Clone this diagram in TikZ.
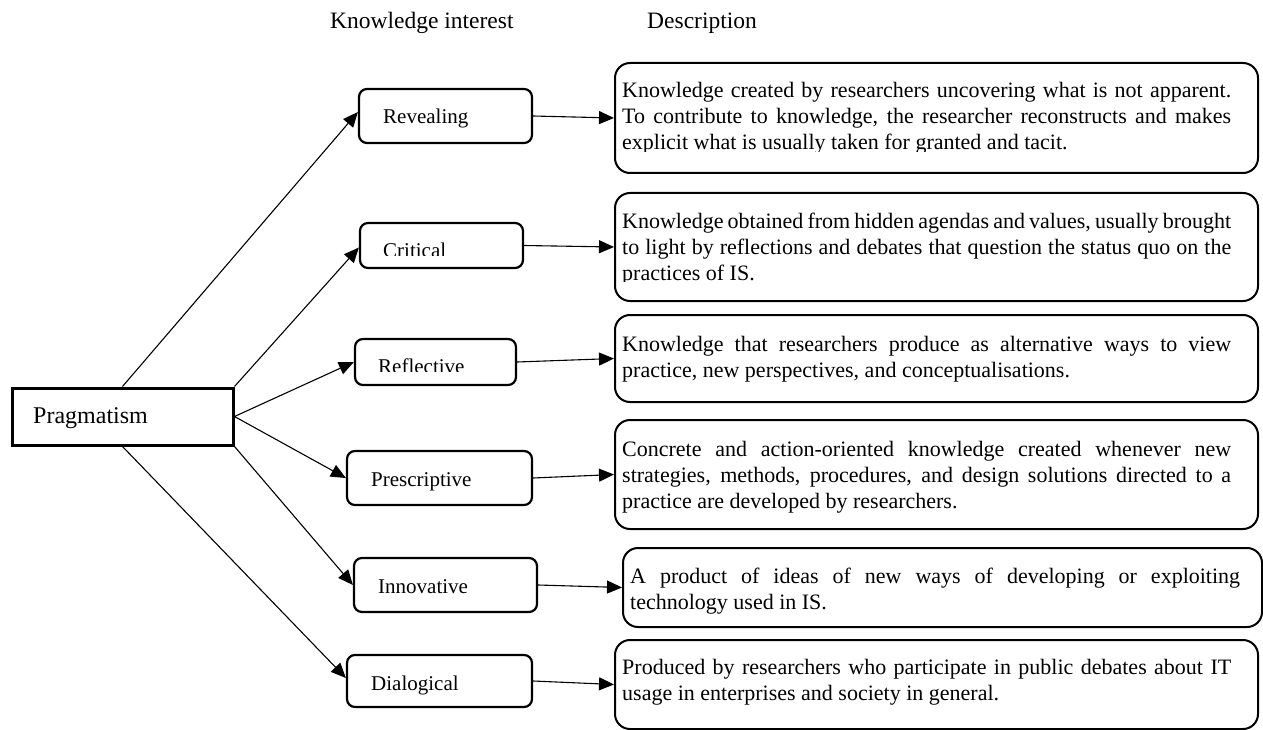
\documentclass[tikz,border=0pt]{standalone}
\usepackage{fontspec}
\setmainfont{Liberation Serif}
\usetikzlibrary{arrows.meta,calc}

% width of a justified description line
\newlength{\descw}
\setlength{\descw}{609pt}
% one justified line of a description, followed by a line break
\newcommand{\jl}[1]{\makebox[\descw][s]{#1}\\}
% description paragraph: first line baseline is the reference point
\newcommand{\desc}[1]{\parbox[t]{630pt}{\fontsize{22pt}{26pt}\selectfont #1}}

\tikzset{
  pragbox/.style={draw, line width=3pt, inner sep=0pt},
  kibox/.style={draw, line width=2.2pt, rounded corners=8pt, inner sep=0pt},
  descbox/.style={draw, line width=2pt, rounded corners=15pt, inner sep=0pt},
  kitext/.style={inner sep=0pt, anchor=base west, font=\fontsize{21pt}{25pt}\selectfont},
  headtext/.style={inner sep=0pt, anchor=base west, font=\fontsize{23.5pt}{28pt}\selectfont},
  desctext/.style={inner sep=0pt, anchor=base west},
  link/.style={line width=1.1pt, -{Triangle[length=15pt,width=13pt]}},
}

\begin{document}
\begin{tikzpicture}[x=1pt, y=-1pt]
  \path[fill=white] (0,0) rectangle (1263,730);
  \useasboundingbox (0,0) rectangle (1263,730);

  % column headings
  \node[headtext] (hki) at (330,29) {Knowledge interest};
  \node[headtext] (hdesc) at (647,29) {Description};

  % root box
  \node[pragbox, minimum width=221pt, minimum height=57pt] (prag) at (122.5,416.5) {};
  \node[inner sep=0pt, anchor=base west, font=\fontsize{24pt}{28pt}\selectfont] (pragtxt) at (33,423) {Pragmatism};

  % knowledge interest boxes
  \node[kibox, minimum width=173pt, minimum height=54pt] (rev)  at (445.5,116) {};
  \node[kibox, minimum width=163pt, minimum height=45pt] (crit) at (441.5,245.5) {};
  \node[kibox, minimum width=161pt, minimum height=46pt] (refl) at (435.5,362) {};
  \node[kibox, minimum width=185pt, minimum height=54pt] (pres) at (439.5,478) {};
  \node[kibox, minimum width=183pt, minimum height=54pt] (inno) at (445.5,585) {};
  \node[kibox, minimum width=185pt, minimum height=52pt] (dial) at (439.5,681) {};

  \node[kitext] (revtxt) at (383,124) {Revealing};
  \begin{scope}
    \clip (360,224) rectangle (523,255.5);
    \node[kitext] (crittxt) at (383,257) {Critical};
  \end{scope}
  \begin{scope}
    \clip (355,340) rectangle (516,371.5);
    \node[kitext] (refltxt) at (378,373) {Reflective};
  \end{scope}
  \node[kitext] (prestxt) at (371,486) {Prescriptive};
  \node[kitext] (innotxt) at (378,593) {Innovative};
  \node[kitext] (dialtxt) at (371,690) {Dialogical};

  % description boxes
  \node[descbox, minimum width=643pt, minimum height=110pt] (d1) at (936.5,118) {};
  \node[descbox, minimum width=643pt, minimum height=108pt] (d2) at (936.5,247) {};
  \node[descbox, minimum width=643pt, minimum height=87pt]  (d3) at (936.5,358.5) {};
  \node[descbox, minimum width=643pt, minimum height=109pt] (d4) at (936.5,474.5) {};
  \node[descbox, minimum width=639pt, minimum height=79pt]  (d5) at (942.5,587.5) {};
  \node[descbox, minimum width=643pt, minimum height=89pt]  (d6) at (936.5,684.5) {};

  \begin{scope}
    \clip (615,64) rectangle (1258,152);
    \node[desctext] (t1) at (622,98) {\desc{%
      \jl{Knowledge created by researchers uncovering what is not apparent.}
      \jl{To contribute to knowledge, the researcher reconstructs and makes}
      explicit what is usually taken for granted and tacit.}};
  \end{scope}
  \begin{scope}
    \clip (615,194) rectangle (1258,281.5);
    \node[desctext] (t2) at (622,228) {\desc{%
      \jl{Knowledge obtained from hidden agendas and values, usually brought}
      \jl{to light by reflections and debates that question the status quo on the}
      practices of IS.}};
  \end{scope}
  \node[desctext] (t3) at (622,351) {\desc{%
    \jl{Knowledge that researchers produce as alternative ways to view}
    practice, new perspectives, and conceptualisations.}};
  \begin{scope}
    \clip (615,421) rectangle (1258,512);
    \node[desctext] (t4) at (622,456) {\desc{%
      \jl{Concrete and action-oriented knowledge created whenever new}
      \jl{strategies, methods, procedures, and design solutions directed to a}
      practice are developed by researchers.}};
  \end{scope}
  \node[desctext] (t5) at (630,583) {\desc{%
    \makebox[610pt][s]{A product of ideas of new ways of developing or exploiting}\\
    technology used in IS.}};
  \node[desctext] (t6) at (622,674) {\desc{%
    \jl{Produced by researchers who participate in public debates about IT}
    usage in enterprises and society in general.}};

  % connectors from the root to each knowledge interest
  \draw[link] (prag.north) -- ([yshift=4pt]rev.west);
  \draw[link] (prag.north east) -- ([yshift=-2pt]crit.west);
  \draw[link] (prag.east) -- (refl.west);
  \draw[link] (prag.east) -- (pres.west);
  \draw[link] (prag.south east) -- (inno.west);
  \draw[link] (prag.south) -- ([yshift=3pt]dial.west);

  % connectors from each knowledge interest to its description
  \draw[link] (rev.east) -- (d1.west);
  \draw[link] (crit.east) -- (d2.west);
  \draw[link] (refl.east) -- (d3.west);
  \draw[link] (pres.east) -- (d4.west);
  \draw[link] (inno.east) -- (d5.west);
  \draw[link] (dial.east) -- (d6.west);
\end{tikzpicture}
\end{document}
